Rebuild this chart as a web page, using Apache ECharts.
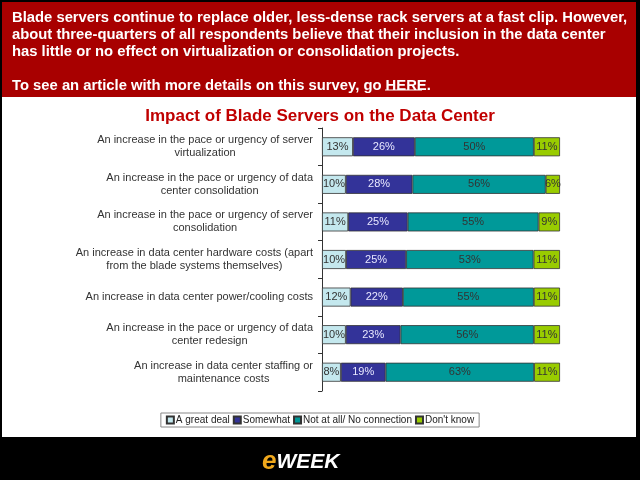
<!DOCTYPE html>
<html>
<head>
<meta charset="utf-8">
<script src="https://cdn.jsdelivr.net/npm/echarts@6/dist/echarts.min.js"></script>
<style>
  html, body { margin: 0; padding: 0; background: #000; }
  #chart { width: 640px; height: 480px; }
</style>
</head>
<body>
<div id="chart"></div>
<script>
// categories, top to bottom
var categories = [
    'An increase in the pace or urgency of server\nvirtualization',
    'An increase in the pace or urgency of data\ncenter consolidation',
    'An increase in the pace or urgency of server\nconsolidation',
    'An increase in data center hardware costs (apart\nfrom the blade systems themselves)',
    'An increase in data center power/cooling costs',
    'An increase in the pace or urgency of data\ncenter redesign',
    'An increase in data center staffing or\nmaintenance costs'
];
var seriesNames = ['A great deal', 'Somewhat', 'Not at all/ No connection', "Don't know"];
var greatDeal = [13, 10, 11, 10, 12, 10, 8];
var somewhat  = [26, 28, 25, 25, 22, 23, 19];
var notAtAll  = [50, 56, 55, 53, 55, 56, 63];
var dontKnow  = [11, 6, 9, 11, 11, 11, 11];

var colors = ['#c4e8ee', '#333399', '#009999', '#99cc00'];
var labelColors = ['#333333', '#e8e8ff', '#333333', '#333333'];
var font = 'Liberation Sans, Arial, sans-serif';

var raw = [greatDeal, somewhat, notAtAll, dontKnow];
// 100% stacked: each row scaled to its own total
var totals = categories.map(function (c, i) {
    return greatDeal[i] + somewhat[i] + notAtAll[i] + dontKnow[i];
});

var chart = echarts.init(document.getElementById('chart'));

var series = raw.map(function (arr, s) {
    return {
        name: seriesNames[s],
        type: 'bar',
        stack: 'all',
        barWidth: 19,
        data: arr.map(function (v, i) { return v / totals[i] * 100; }),
        itemStyle: { color: colors[s], borderColor: '#333', borderWidth: 0.8 },
        label: {
            show: true,
            position: 'inside',
            fontSize: 11,
            fontFamily: font,
            color: labelColors[s],
            formatter: function (p) { return arr[p.dataIndex] + '%'; }
        },
        emphasis: { disabled: true }
    };
});

var option = {
    backgroundColor: '#000',
    animation: false,
    title: {
        text: 'Impact of Blade Servers on the Data Center',
        left: 'center',
        top: 103,
        textStyle: { fontSize: 17, fontWeight: 'bold', color: '#c00000', fontFamily: font }
    },
    legend: {
        data: seriesNames,
        left: 'center',
        top: 413,
        icon: 'rect',
        itemWidth: 7,
        itemHeight: 7,
        itemGap: 3,
        padding: [2, 5],
        borderColor: '#888',
        borderWidth: 1,
        backgroundColor: '#fff',
        textStyle: { fontSize: 10, fontFamily: font, color: '#222', padding: [0, 0, 0, -3] }
    },
    grid: { left: 322, right: 80, top: 128, bottom: 89 },
    xAxis: { type: 'value', min: 0, max: 100, show: false },
    yAxis: {
        type: 'category',
        inverse: true,
        data: categories,
        axisLine: { lineStyle: { color: '#333' } },
        axisTick: { show: true, length: 4, lineStyle: { color: '#333' } },
        axisLabel: {
            margin: 9,
            fontSize: 11,
            fontFamily: font,
            color: '#333',
            formatter: function (v) {
                return v.split('\n').map(function (s) { return '{c|' + s + '}'; }).join('\n');
            },
            rich: { c: { align: 'center', fontSize: 11, fontFamily: font, color: '#333', lineHeight: 13 } }
        }
    },
    graphic: [
        { type: 'rect', z: -10, shape: { x: 2, y: 2, width: 634, height: 435 }, style: { fill: '#fff' } },
        { type: 'rect', z: -9, shape: { x: 2, y: 2, width: 634, height: 95 }, style: { fill: '#a80000' } },
        {
            type: 'text', left: 12, top: 9, z: 10,
            style: {
                text: 'Blade servers continue to replace older, less-dense rack servers at a fast clip. However,\n' +
                      'about three-quarters of all respondents believe that their inclusion in the data center\n' +
                      'has little or no effect on virtualization or consolidation projects.\n\n' +
                      'To see an article with more details on this survey, go HERE.',
                fill: '#fff', font: 'bold 14.8px ' + font, lineHeight: 17
            }
        },
        { type: 'line', z: 10, shape: { x1: 385, y1: 90, x2: 422, y2: 90 }, style: { stroke: '#fff', lineWidth: 1.2 } },
        {
            type: 'text', left: 262, top: 449, z: 10,
            style: {
                text: '{e|e}{w|WEEK}',
                rich: {
                    e: { fill: '#f0a81c', font: 'italic bold 26px ' + font },
                    w: { fill: '#fff', font: 'italic bold 21px ' + font }
                }
            }
        }
    ],
    series: series
};
chart.setOption(option);
</script>
</body>
</html>
